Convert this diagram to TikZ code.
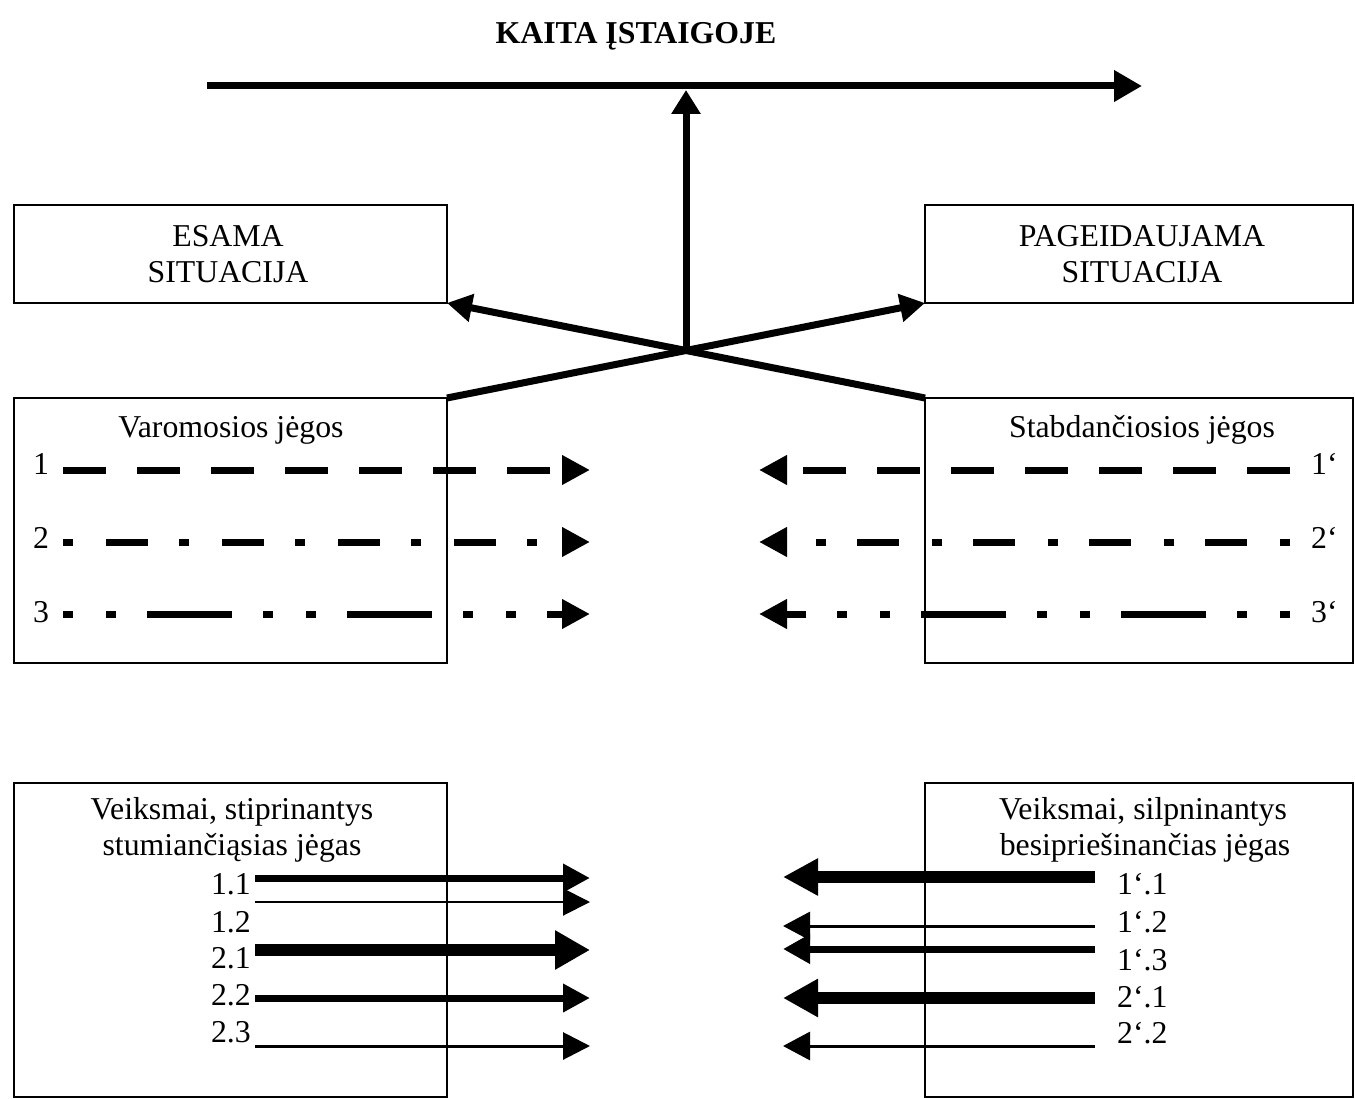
\documentclass[tikz,border=0pt]{standalone}
\usepackage{fontspec}
\setmainfont{Liberation Serif}
\usetikzlibrary{arrows.meta}

\begin{document}
\begin{tikzpicture}[x=1pt,y=-1pt,
  every node/.style={font=\fontsize{31.8}{38}\selectfont, inner sep=0pt},
  box/.style={draw, rectangle, line width=2pt, inner sep=0pt, outer sep=0pt},
  lbl/.style={anchor=base},
  force/.style={line width=7pt, -{Triangle[length=28pt,width=28pt]}},
  drive1/.style={force, dash pattern=on 43pt off 31pt},
  drive2/.style={force, dash pattern=on 10pt off 33pt on 42pt off 31pt},
  drive3/.style={force, dash pattern=on 10pt off 33pt on 10pt off 31pt on 85pt off 31pt}]

\useasboundingbox (0,0) rectangle (1355,1099);

% title and the line of change
\node[lbl, font=\fontsize{31.8}{38}\selectfont\bfseries] (title) at (636,44) {KAITA ĮSTAIGOJE};
\coordinate (tl) at (207,86);
\coordinate (tr) at (1142,86);
\draw[line width=7pt, -{Triangle[length=28pt,width=30pt]}] (tl) -- (tr);

% situation boxes
\node[box, minimum width=433pt, minimum height=98pt] (esama) at (230.5,254) {};
\node[box, minimum width=428pt, minimum height=98pt] (pageid) at (1139,254) {};
\node[lbl] (esama1) at (228,247) {ESAMA};
\node[lbl] (esama2) at (228,283) {SITUACIJA};
\node[lbl] (pageid1) at (1142,247) {PAGEIDAUJAMA};
\node[lbl] (pageid2) at (1142,283) {SITUACIJA};

% force boxes
\node[box, minimum width=433pt, minimum height=265pt] (varo) at (230.5,530.5) {};
\node[box, minimum width=428pt, minimum height=265pt] (stab) at (1139,530.5) {};
\node[lbl] (varot) at (231,437) {Varomosios jėgos};
\node[lbl] (stabt) at (1142,437) {Stabdančiosios jėgos};

% crossing arrows and the resulting push upwards
\path (varo.north east) -- (pageid.south west) coordinate[pos=0.5] (hub);
\coordinate (vtip) at (hub |- 0,90);
\draw[line width=7pt, -{Triangle[length=25pt,width=27pt]}] (varo.north east) -- (pageid.south west);
\draw[line width=7pt, -{Triangle[length=25pt,width=27pt]}] (stab.north west) -- (esama.south east);
\draw[line width=7pt, -{Triangle[length=24pt,width=28pt]}] (hub) -- (vtip);

% driving forces
\node[lbl] (d1) at (41,474) {1};
\node[lbl] (d2) at (41,548) {2};
\node[lbl] (d3) at (41,622) {3};
\coordinate (d1s) at (63,470);  \coordinate (d1e) at (590,470);
\coordinate (d2s) at (63,542);  \coordinate (d2e) at (590,542);
\coordinate (d3s) at (63,614);  \coordinate (d3e) at (590,614);
\draw[drive1] (d1s) -- (d1e);
\draw[drive2] (d2s) -- (d2e);
\draw[drive3] (d3s) -- (d3e);

% restraining forces
\node[lbl, anchor=base west] (r1) at (1311,474) {1‘};
\node[lbl, anchor=base west] (r2) at (1311,548) {2‘};
\node[lbl, anchor=base west] (r3) at (1311,622) {3‘};
\coordinate (r1s) at (1290,470);  \coordinate (r1e) at (759,470);
\coordinate (r2s) at (1290,542);  \coordinate (r2e) at (759,542);
\coordinate (r3s) at (1290,614);  \coordinate (r3e) at (759,614);
\draw[drive1] (r1s) -- (r1e);
\draw[drive2] (r2s) -- (r2e);
\draw[drive3] (r3s) -- (r3e);

% action boxes
\node[box, minimum width=433pt, minimum height=314pt] (act1) at (230.5,940) {};
\node[box, minimum width=428pt, minimum height=314pt] (act2) at (1139,940) {};
\node[lbl] (act1a) at (232,819) {Veiksmai, stiprinantys};
\node[lbl] (act1b) at (232,855) {stumiančiąsias jėgas};
\node[lbl] (act2a) at (1143,819) {Veiksmai, silpninantys};
\node[lbl] (act2b) at (1145,855) {besipriešinančias jėgas};

% strengthening actions
\foreach \yy/\lw/\hl/\hw/\txt/\ty in {878/7/27/27/1.1/894, 902/2/27/27/1.2/932, 950/12/35/37/2.1/968, 998/7/27/27/2.2/1005, 1046/3/27/27/2.3/1042} {
  \node[anchor=base east] (sl\yy) at (251,\ty) {\txt};
  \coordinate (ss\yy) at (255,\yy);
  \coordinate (se\yy) at (590,\yy);
  \draw[line width=\lw pt, -{Triangle[length=\hl pt,width=\hw pt]}] (ss\yy) -- (se\yy);
}

% weakening actions
\foreach \yy/\lw/\hl/\hw/\txt/\ty in {877/12/35/35/1‘.1/894, 926/3/27/28/1‘.2/932, 949/7/27/28/1‘.3/970, 998/12/35/36/2‘.1/1007, 1046/3/27/28/2‘.2/1043} {
  \node[anchor=base west] (wl\yy) at (1117,\ty) {\txt};
  \coordinate (ws\yy) at (1095,\yy);
  \coordinate (we\yy) at (783,\yy);
  \draw[line width=\lw pt, -{Triangle[length=\hl pt,width=\hw pt]}] (ws\yy) -- (we\yy);
}
\end{tikzpicture}
\end{document}
